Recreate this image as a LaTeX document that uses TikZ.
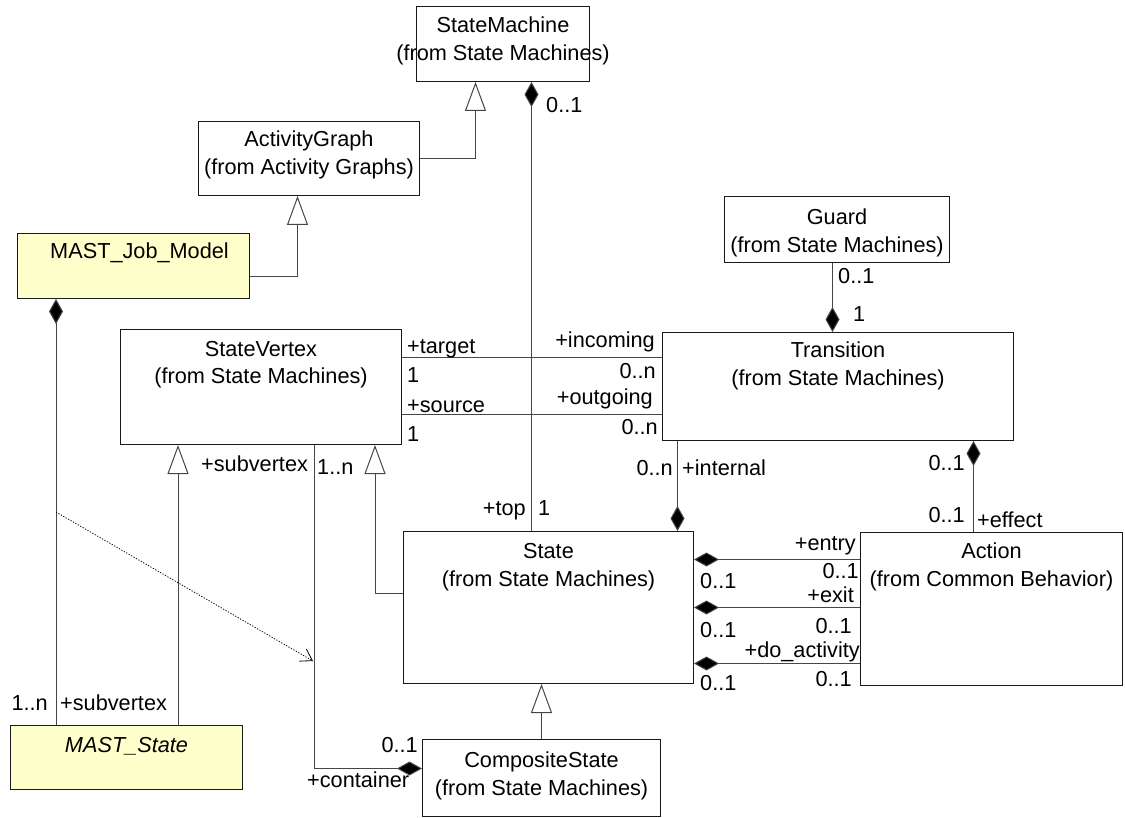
\documentclass[tikz,border=0pt]{standalone}
\usepackage{fontspec}
\setmainfont{Liberation Sans}
\usetikzlibrary{arrows.meta}
\definecolor{mastfill}{RGB}{255,255,204}
\definecolor{edgegray}{RGB}{70,70,70}
% two-line class title; the baseline is that of the first line
\newcommand{\classname}[2]{\begin{tabular}[t]{@{}c@{}}#1\\#2\end{tabular}}

\begin{document}
\begin{tikzpicture}[x=1pt, y=-1pt,
  every node/.style={font=\fontsize{21.7}{28}\selectfont},
  cls/.style={draw=black!90, line width=1pt, anchor=north west, inner sep=0pt},
  mast/.style={cls, fill=mastfill},
  title/.style={anchor=base, inner sep=0pt},
  lw/.style={anchor=base west, inner sep=0pt},
  le/.style={anchor=base east, inner sep=0pt},
  edge/.style={draw=edgegray, line width=1pt},
  gen/.style={edge, -{Triangle[open, length=29pt, width=21pt, fill=white]}},
  compend/.style={edge, -{Diamond[length=25pt, width=14pt, fill=black]}},
  compstart/.style={edge, {Diamond[length=25pt, width=14pt, fill=black]}-},
  dep/.style={draw=black, line width=0.8pt, dash pattern=on 1.2pt off 1.6pt,
    -{Straight Barb[length=11pt, width=14pt]}}]
\useasboundingbox (0,0) rectangle (1125,818);

% classes
\node[cls, minimum width=173, minimum height=75] (sm) at (416,6) {};
\node[title] (smT) at ([yshift=-27pt]sm.north) {\classname{StateMachine}{(from State Machines)}};

\node[cls, minimum width=221, minimum height=74] (ag) at (198,121) {};
\node[title] (agT) at ([yshift=-26pt]ag.north) {\classname{ActivityGraph}{(from Activity Graphs)}};

\node[mast, minimum width=232, minimum height=65] (mjm) at (17,233) {};
\node[title] (mjmT) at ([xshift=6pt,yshift=-26pt]mjm.north) {MAST\_Job\_Model};

\node[cls, minimum width=281, minimum height=115] (sv) at (120,329) {};
\node[title] (svT) at ([yshift=-27pt]sv.north) {\classname{StateVertex}{(from State Machines)}};

\node[cls, minimum width=225, minimum height=66] (gd) at (724,196) {};
\node[title] (gdT) at ([yshift=-29pt]gd.north) {\classname{Guard}{(from State Machines)}};

\node[cls, minimum width=351, minimum height=108] (tr) at (662,332) {};
\node[title] (trT) at ([yshift=-26pt]tr.north) {\classname{Transition}{(from State Machines)}};

\node[cls, minimum width=290, minimum height=152] (st) at (403,531) {};
\node[title] (stT) at ([yshift=-27pt]st.north) {\classname{State}{(from State Machines)}};

\node[cls, minimum width=262, minimum height=153] (act) at (860,532) {};
\node[title] (actT) at ([yshift=-26pt]act.north) {\classname{Action}{(from Common Behavior)}};

\node[cls, minimum width=238, minimum height=77] (cs) at (422,739) {};
\node[title] (csT) at ([yshift=-28pt]cs.north) {\classname{CompositeState}{(from State Machines)}};

\node[mast, minimum width=232, minimum height=64] (ms) at (10,725) {};
\node[title] (msT) at ([yshift=-27pt]ms.north) {\textit{MAST\_State}};

% generalizations
\draw[gen] (ag.east) -| ([xshift=-27.5pt]sm.south);
\draw[gen] ([yshift=-10.5pt]mjm.east) -| ([xshift=-11.5pt]ag.south);
\draw[gen] ([xshift=58pt]sv.south west |- ms.north) -- ([xshift=58pt]sv.south west);
\draw[gen] ([yshift=14pt]st.west) -| ([xshift=-27pt]sv.south east);
\draw[gen] (cs.north) -- (cs.north |- st.south);

% associations and compositions
\draw[compstart] ([xshift=28.5pt]sm.south) -- ([xshift=28.5pt]sm.south |- st.north);
\draw[edge] ([yshift=29.5pt]sv.east) -- ([yshift=29.5pt]sv.east -| tr.west);
\draw[edge] ([yshift=-27.5pt]sv.east) -- ([yshift=-27.5pt]sv.east -| tr.west);
\draw[compend] ([xshift=-4.5pt]gd.south) -- ([xshift=-4.5pt]gd.south |- tr.north);
\draw[compend] ([xshift=-160.5pt]tr.south) -- ([xshift=-160.5pt]tr.south |- st.north);
\draw[compstart] ([xshift=135.5pt]tr.south) -- ([xshift=135.5pt]tr.south |- act.north);
\draw[compend] ([yshift=49.5pt]act.west) -- ([yshift=49.5pt]act.west -| st.east);
\draw[compend] ([yshift=1.5pt]act.west) -- ([yshift=1.5pt]act.west -| st.east);
\draw[compend] ([yshift=-54.5pt]act.west) -- ([yshift=-54.5pt]act.west -| st.east);
\draw[compend] ([xshift=-88pt]sv.south east) |- ([yshift=9.5pt]cs.west);
\draw[compstart] ([xshift=39pt]mjm.south west) -- ([xshift=39pt]mjm.south west |- ms.north);

% dependency
\coordinate (depA) at (56,512);
\coordinate (depB) at (313,661);
\draw[dep] (depA) -- (depB);

% role names and multiplicities
\node[lw] (m1) at (546,113) {0..1};
\node[lw] (m2) at (407,354) {+target};
\node[lw] (m3) at (407,383) {1};
\node[lw] (m4) at (407,412) {+source};
\node[lw] (m5) at (407,441) {1};
\node[le] (m6) at (655,348) {+incoming};
\node[le] (m7) at (656,379) {0..n};
\node[le] (m8) at (653,404) {+outgoing};
\node[le] (m9) at (658,435) {0..n};
\node[le] (m10) at (673,475) {0..n};
\node[lw] (m11) at (682,475) {+internal};
\node[le] (m12) at (526,515) {+top};
\node[lw] (m13) at (538,515) {1};
\node[lw] (m14) at (838,284) {0..1};
\node[lw] (m15) at (853,322) {1};
\node[le] (m16) at (965,470) {0..1};
\node[le] (m17) at (965,522) {0..1};
\node[lw] (m18) at (977,527) {+effect};
\node[le] (m19) at (856,550) {+entry};
\node[le] (m20) at (859,578) {0..1};
\node[lw] (m21) at (700,588) {0..1};
\node[le] (m22) at (854,602) {+exit};
\node[lw] (m23) at (700,637) {0..1};
\node[le] (m24) at (852,633) {0..1};
\node[le] (m25) at (860,657) {+do\_activity};
\node[lw] (m26) at (700,690) {0..1};
\node[le] (m27) at (852,686) {0..1};
\node[lw] (m28) at (201,471) {+subvertex};
\node[lw] (m29) at (317,474) {1..n};
\node[le] (m30) at (48,710) {1..n};
\node[lw] (m31) at (60,710) {+subvertex};
\node[le] (m32) at (418,752) {0..1};
\node[lw] (m33) at (307,787) {+container};
\end{tikzpicture}
\end{document}
